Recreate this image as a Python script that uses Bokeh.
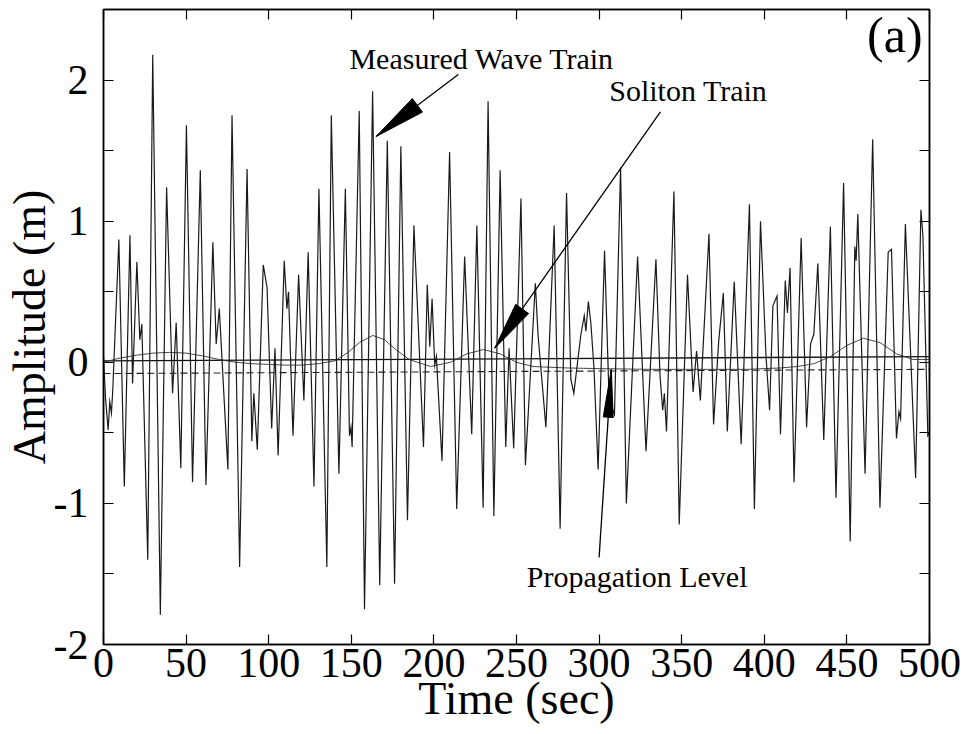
import math
from bokeh.plotting import figure
from bokeh.models import Range1d, FixedTicker, LinearAxis, Label
from bokeh.embed import file_html
from bokeh.resources import INLINE

# ---------------- data ----------------
wave_t = [0, 1.2, 2.8, 3.8, 4.8, 5.6, 9.3, 12.6, 16.0, 17.6,
          20.2, 22.0, 23.2, 26.8, 29.8, 34.4, 38.2, 41.8, 44.0, 46.8,
          50.2, 53.9, 58.6, 62.0, 66.2, 68.2, 70.1, 75.3, 77.8, 82.4,
          86.9, 89.8, 91.0, 93.1, 96.7, 99.0, 101.8, 103.8, 105.7, 109.4,
          111.0, 112.0, 114.7, 118.1, 121.3, 123.9, 127.4, 130.4, 135.2, 137.9,
          142.5, 146.4, 148.9, 149.8, 150.5, 154.8, 158.0, 162.9, 167.2, 171.8,
          176.2, 180.0, 184.0, 187.9, 193.7, 196.0, 197.5, 198.9, 200.5, 201.5,
          204.9, 209.5, 213.8, 218.6, 222.9, 226.0, 229.8, 232.8, 236.3, 240.1,
          243.5, 245.5, 248.3, 252.7, 255.4, 261.4, 263.0, 267.8, 272.8, 276.4,
          280.3, 282.9, 284.7, 288.9, 291.0, 292.0, 293.5, 295.0, 296.9, 299.4,
          303.3, 306.3, 307.8, 309.3, 313.0, 316.5, 323.3, 328.4, 334.4, 336.9,
          338.5, 339.5, 340.8, 345.3, 348.5, 353.5, 356.9, 359.0, 361.3, 366.5,
          369.3, 372.4, 375.2, 377.6, 381.8, 386.0, 391.0, 394.0, 397.7, 401.0,
          403.2, 405.2, 407.7, 409.8, 412.7, 414.0, 415.6, 418.0, 422.3, 425.6,
          428.0, 430.0, 432.4, 436.0, 440.0, 443.4, 448.0, 452.0, 454.8, 455.6,
          456.6, 461.0, 465.6, 470.0, 475.0, 477.0, 480.0, 481.5, 482.5, 485.4,
          491.6, 494.8, 496.0, 499.0, 500.0]
wave_y = [0.05, -0.25, -0.48, -0.28, -0.36, -0.20, 0.87, -0.88, 0.90, -0.15,
          0.71, 0.16, 0.27, -1.40, 2.18, -1.79, 1.24, -0.22, 0.28, -0.75,
          1.68, -0.85, 1.36, -0.87, 0.85, 0.13, 0.38, -0.76, 1.75, -1.45,
          1.37, -0.56, -0.22, -0.62, 0.69, 0.53, -0.47, 0.10, -0.66, 0.72,
          0.38, 0.50, -0.52, 0.62, -0.27, 0.78, -0.88, 1.23, -1.45, 1.75,
          -0.79, 1.23, -0.52, -0.46, -0.60, 1.78, -1.75, 1.92, -1.58, 1.57,
          -1.57, 1.53, -1.12, 0.97, -0.60, 0.55, 0.11, 0.45, -0.02, 0.04,
          -0.70, 1.49, -1.04, 0.75, -0.51, 0.97, -1.03, 1.85, -1.09, 1.36,
          -0.60, 0.10, -0.61, 1.16, -0.73, 0.56, 0.20, -0.46, 0.97, -1.18,
          1.20, -0.12, -0.22, 0.19, 0.33, 0.22, 0.43, 0.28, -0.04, -0.76,
          0.79, -0.36, -0.32, -0.37, 1.38, -1.00, 0.75, -0.63, 0.73, -0.10,
          -0.34, -0.22, -0.49, 1.21, -1.15, 0.62, -0.21, 0.08, -0.27, 0.91,
          -0.44, 0.15, 0.49, -0.49, 0.57, -0.58, 1.12, -1.04, 1.00, 0.05,
          -0.34, 0.40, 0.47, -0.51, 0.58, 0.35, 0.67, -0.85, 0.88, -0.46,
          0.13, 0.20, 0.70, -0.55, 0.96, -0.96, 1.27, -1.27, 0.82, 0.72,
          1.05, -0.79, 1.58, -1.03, 0.78, 0.80, -0.54, -0.35, -0.40, 0.98,
          -0.82, 1.08, 0.90, -0.52, -0.50]

soliton_t = [0, 10, 20, 30, 40, 50, 60, 70, 80, 90,
             100, 110, 120, 130, 140, 148, 155, 163, 170, 177,
             185, 198, 210, 220, 230, 240, 250, 260, 280, 300,
             330, 360, 390, 410, 420, 430, 440, 450, 460, 470,
             480, 490, 500]
soliton_y = [0.0, 0.03, 0.05, 0.065, 0.07, 0.065, 0.045, 0.02, 0.0, -0.01,
             -0.015, -0.02, -0.02, -0.01, 0.01, 0.07, 0.14, 0.19, 0.16, 0.09,
             0.02, -0.03, 0.0, 0.06, 0.09, 0.06, 0.0, -0.03, -0.04, -0.045,
             -0.05, -0.05, -0.05, -0.04, -0.03, -0.01, 0.04, 0.12, 0.17, 0.14,
             0.06, 0.02, 0.02]

mean_t = [0, 500]
mean_y = [0.01, 0.04]
prop_t = [0, 500]
prop_y = [-0.08, -0.05]

x_ticks = [0, 50, 100, 150, 200, 250, 300, 350, 400, 450, 500]
y_ticks = [-2, -1, 0, 1, 2]
y_tick_text = {-2: "-2", -1: "-1", 0: "0", 1: "1", 2: "2"}
y_minor = [-1.5, -0.5, 0.5, 1.5]

# annotations: (tip, tail) in data units, with head length/width in px
arrows = [
    ((165.0, 1.60), (214.8, 2.04), 52, 17),
    ((236.8, 0.10), (337.1, 1.775), 48, 16),
    ((307.4, -0.05), (300.0, -1.383), 48, 10),
]
texts = [
    ("Measured Wave Train", 229.0, 2.155),
    ("Soliton Train", 354.0, 1.925),
    ("Propagation Level", 323.0, -1.515),
]

# ---------------- figure ----------------
X_MIN, X_MAX = 0, 500
Y_MIN, Y_MAX = -2.0, 2.5
W, H = 966, 734
BL, BR, BT, BB = 97, 37, 9, 90
FW, FH = W - BL - BR, H - BT - BB
SERIF = "Liberation Serif"

p = figure(width=W, height=H,
           x_range=Range1d(X_MIN, X_MAX), y_range=Range1d(Y_MIN, Y_MAX),
           output_backend="svg", toolbar_location=None,
           min_border_left=BL, min_border_right=BR, min_border_top=BT,
           min_border_bottom=BB)
p.xgrid.visible = False
p.ygrid.visible = False
p.outline_line_color = "black"
p.outline_line_width = 1.5


def style_axis(ax, ticker, show_labels):
    ax.ticker = ticker
    ax.axis_line_color = "black"
    ax.axis_line_width = 1.5
    ax.major_tick_in = 10
    ax.major_tick_out = 0
    ax.minor_tick_in = 10
    ax.minor_tick_out = 0
    ax.major_tick_line_color = "black"
    ax.minor_tick_line_color = "black"
    ax.major_tick_line_width = 1.2
    ax.minor_tick_line_width = 1.2
    ax.major_label_text_font = SERIF
    ax.major_label_text_color = "black"
    if show_labels:
        ax.major_label_text_font_size = "42px"
    else:
        ax.major_label_text_font_size = "1px"
        ax.major_label_text_color = None
        ax.major_label_standoff = 0


xt = FixedTicker(ticks=x_ticks, minor_ticks=[])
yt = FixedTicker(ticks=y_ticks, minor_ticks=y_minor)

xb = p.xaxis[0]
style_axis(xb, xt, True)
xb.major_label_standoff = 4
xb.axis_label = "Time (sec)"
xb.axis_label_text_font = SERIF
xb.axis_label_text_font_style = "normal"
xb.axis_label_text_font_size = "46px"
xb.axis_label_text_color = "black"
xb.axis_label_standoff = -7

yl = p.yaxis[0]
style_axis(yl, yt, True)
yl.major_label_overrides = y_tick_text
yl.major_label_standoff = 15
yl.axis_label = "Amplitude (m)"
yl.axis_label_text_font = SERIF
yl.axis_label_text_font_style = "normal"
yl.axis_label_text_font_size = "46px"
yl.axis_label_text_color = "black"
yl.axis_label_standoff = -4

xtop = LinearAxis()
style_axis(xtop, FixedTicker(ticks=x_ticks, minor_ticks=[]), False)
p.add_layout(xtop, "above")
yright = LinearAxis()
style_axis(yright, FixedTicker(ticks=y_ticks, minor_ticks=y_minor), False)
p.add_layout(yright, "right")

# ---------------- series ----------------
p.line(prop_t, prop_y, line_color="#222222", line_width=1.1, line_dash="7 4")
p.line(mean_t, mean_y, line_color="#111111", line_width=1.3)
p.line(soliton_t, soliton_y, line_color="#333333", line_width=0.9)
p.line(wave_t, wave_y, line_color="#1a1a1a", line_width=1.2, line_join="miter")

# ---------------- annotations ----------------
px_x = FW / (X_MAX - X_MIN)
px_y = FH / (Y_MAX - Y_MIN)


def head(tip, tail, length, width):
    dx = (tail[0] - tip[0]) * px_x
    dy = (tail[1] - tip[1]) * px_y
    d = math.hypot(dx, dy)
    ux, uy = dx / d, dy / d
    bx, by = ux * length, uy * length
    nx, ny = -uy * width / 2, ux * width / 2
    pts = [(0, 0), (bx + nx, by + ny), (bx - nx, by - ny)]
    return ([tip[0] + a / px_x for a, b in pts], [tip[1] + b / px_y for a, b in pts])


hx, hy = [], []
for tip, tail, hl, hw in arrows:
    p.segment(x0=[tail[0]], y0=[tail[1]], x1=[tip[0]], y1=[tip[1]],
              line_color="black", line_width=1.3)
    xs, ys = head(tip, tail, hl, hw)
    hx.append(xs)
    hy.append(ys)
p.patches(hx, hy, fill_color="black", line_color="black", line_width=1)

for txt, tx, ty in texts:
    p.add_layout(Label(x=tx, y=ty, text=txt, text_font=SERIF,
                       text_font_size="30px", text_color="black",
                       text_baseline="alphabetic", text_align="center"))
p.add_layout(Label(x=479.0, y=2.32, text="(a)", text_font=SERIF,
                   text_font_size="50px", text_color="black",
                   text_baseline="middle", text_align="center"))

open("out.html", "w").write(file_html(p, INLINE))
